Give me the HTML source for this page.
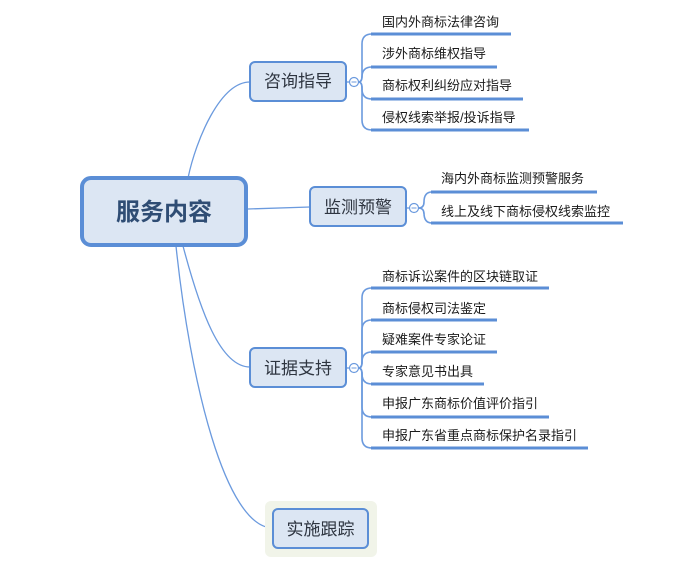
<!DOCTYPE html>
<html><head><meta charset="utf-8"><style>
html,body{margin:0;padding:0;background:#fff;}
svg{display:block;}
text{font-family:"Liberation Sans","Noto Sans CJK SC",sans-serif;}
</style></head><body>
<svg width="691" height="566" viewBox="0 0 691 566" xmlns="http://www.w3.org/2000/svg">
<g fill="none" stroke="#6b9ade" stroke-width="1.3">
  <path d="M188,178 C196,140 220,82 250,82"/>
  <path d="M248,209 L310,207"/>
  <path d="M183,246 C200,310 220,367 250,367"/>
  <path d="M176,246 C190,380 225,528 273,528"/>
  <path d="M347,82 L349.5,82"/>
  <path d="M407,208 L409.5,208"/>
  <path d="M347,368 L349.5,368"/>
</g>
<g fill="none" stroke="#6b9ade" stroke-width="1.6">
  <!-- 咨询 leaves -->
  <path d="M358.5,82 Q362,82 362,76 L362,44 Q362,34 372,34"/>
  <path d="M358.5,82 Q362,82 362,76 L362,77 Q362,67 372,67"/>
  <path d="M358.5,82 Q362,82 362,88 L362,89 Q362,99 372,99"/>
  <path d="M358.5,82 Q362,82 362,88 L362,120 Q362,130 372,130"/>
  <!-- 监测 leaves -->
  <path d="M418.5,208 Q424,208 424,202 L424,202 Q424,192 432,192"/>
  <path d="M418.5,208 Q424,208 424,214 L424,213 Q424,223 432,223"/>
  <!-- 证据 leaves -->
  <path d="M358.5,368 Q362,368 362,362 L362,298 Q362,288 372,288"/>
  <path d="M358.5,368 Q362,368 362,362 L362,330 Q362,320 372,320"/>
  <path d="M358.5,368 Q362,368 362,362 L362,362 Q362,352 372,352"/>
  <path d="M358.5,368 Q362,368 362,374 L362,374 Q362,384 372,384"/>
  <path d="M358.5,368 Q362,368 362,374 L362,407 Q362,417 372,417"/>
  <path d="M358.5,368 Q362,368 362,374 L362,438 Q362,448 372,448"/>
</g>
<g fill="#fff" stroke="#6b9ade" stroke-width="1.2">
  <circle cx="354" cy="82" r="4.5"/>
  <circle cx="414" cy="208" r="4.5"/>
  <circle cx="354" cy="368" r="4.5"/>
</g>
<g stroke="#6b9ade" stroke-width="1">
  <line x1="351.5" y1="82" x2="356.5" y2="82"/>
  <line x1="411.5" y1="208" x2="416.5" y2="208"/>
  <line x1="351.5" y1="368" x2="356.5" y2="368"/>
</g>
<g stroke="#5b8ed6" stroke-width="3">
  <line x1="371" y1="34" x2="511" y2="34"/>
  <line x1="371" y1="67" x2="497" y2="67"/>
  <line x1="371" y1="99" x2="523" y2="99"/>
  <line x1="371" y1="130" x2="529" y2="130"/>
  <line x1="431" y1="192" x2="597" y2="192"/>
  <line x1="431" y1="223" x2="623" y2="223"/>
  <line x1="371" y1="288" x2="549" y2="288"/>
  <line x1="371" y1="320" x2="497" y2="320"/>
  <line x1="371" y1="352" x2="497" y2="352"/>
  <line x1="371" y1="384" x2="484" y2="384"/>
  <line x1="371" y1="417" x2="549" y2="417"/>
  <line x1="371" y1="448" x2="588" y2="448"/>
</g>
<g font-size="13" fill="#1a1a1a">
  <text x="382" y="26.5">国内外商标法律咨询</text>
  <text x="382" y="58">涉外商标维权指导</text>
  <text x="382" y="90">商标权利纠纷应对指导</text>
  <text x="382" y="122">侵权线索举报/投诉指导</text>
  <text x="441" y="183">海内外商标监测预警服务</text>
  <text x="441" y="216">线上及线下商标侵权线索监控</text>
  <text x="382" y="281">商标诉讼案件的区块链取证</text>
  <text x="382" y="313">商标侵权司法鉴定</text>
  <text x="382" y="344">疑难案件专家论证</text>
  <text x="382" y="376">专家意见书出具</text>
  <text x="382" y="408">申报广东商标价值评价指引</text>
  <text x="382" y="440">申报广东省重点商标保护名录指引</text>
</g>
<rect x="265" y="501" width="112" height="56" rx="6" fill="#f1f4e9"/>
<g fill="#dce6f3" stroke="#5b8ed6" stroke-width="2">
  <rect x="250" y="62" width="96" height="39" rx="5"/>
  <rect x="310" y="187" width="96" height="39" rx="5"/>
  <rect x="250" y="348" width="96" height="39" rx="5"/>
  <rect x="273" y="509" width="95" height="39" rx="5"/>
</g>
<rect x="82" y="178" width="164" height="67" rx="9" fill="#dce6f3" stroke="#5b8ed6" stroke-width="4"/>
<g font-size="17" fill="#2e3540" text-anchor="middle">
  <text x="298" y="87">咨询指导</text>
  <text x="358" y="213">监测预警</text>
  <text x="298" y="374">证据支持</text>
  <text x="320.5" y="535">实施跟踪</text>
</g>
<text x="164" y="220" font-size="24" font-weight="bold" fill="#2f4d74" text-anchor="middle">服务内容</text>
</svg>
</body></html>
